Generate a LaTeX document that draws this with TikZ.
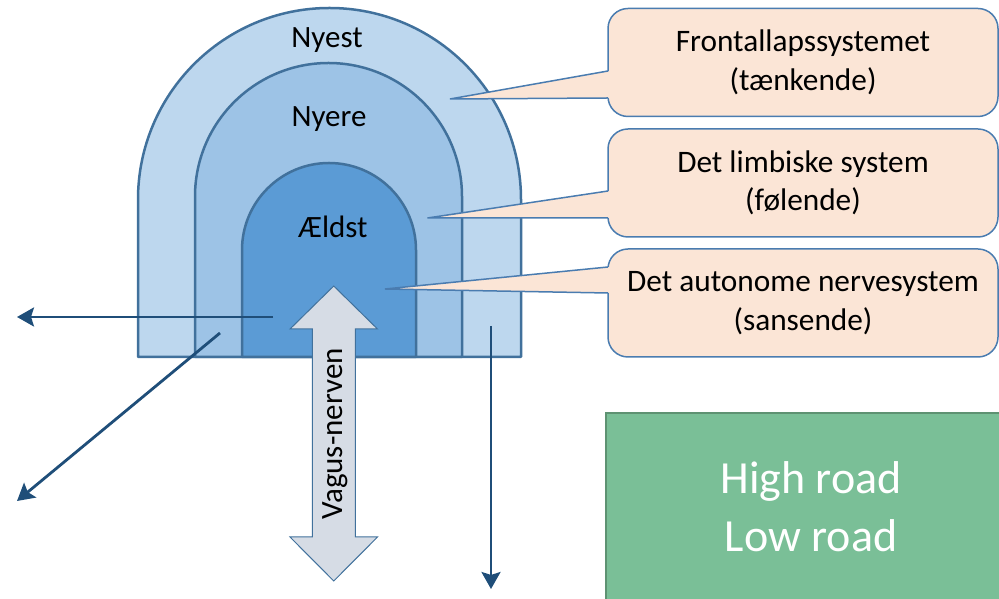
\documentclass[tikz,border=0pt]{standalone}
\usepackage{fontspec}
\setmainfont{Carlito}
\usetikzlibrary{arrows.meta}
\definecolor{archline}{HTML}{41719C}
\definecolor{outerfill}{HTML}{BDD7EE}
\definecolor{midfill}{HTML}{9DC3E6}
\definecolor{innerfill}{HTML}{5B9BD5}
\definecolor{callfill}{HTML}{FBE5D6}
\definecolor{callline}{HTML}{4A7CB0}
\definecolor{vagfill}{HTML}{D6DCE5}
\definecolor{darkarrow}{HTML}{1F4E79}
\definecolor{greenfill}{HTML}{7ABF97}
\definecolor{greenline}{HTML}{5E9272}
\tikzset{
  arch/.style={draw=archline, line width=2.5pt, line join=round},
  callbox/.style={draw=callline, fill=callfill, line width=1.5pt, rounded corners=20pt,
    minimum width=390pt, minimum height=108pt, align=center, inner sep=0pt,
    font=\fontsize{31.3}{38.5}\selectfont},
  layerlabel/.style={anchor=base, font=\fontsize{31}{37}\selectfont},
  darkarr/.style={draw=darkarrow, line width=2.8pt, -{Stealth[length=17pt,width=19pt,inset=3pt]}},
}
\begin{document}
\begin{tikzpicture}[x=1pt,y=1pt]
\useasboundingbox (0,0) rectangle (999,599);
% arches
\draw[arch, fill=outerfill] (138,242) -- (138,399.5) arc[start angle=180,end angle=0,radius=191.5] -- (521,242) -- cycle;
\draw[arch, fill=midfill] (195,242) -- (195,402.5) arc[start angle=180,end angle=0,radius=133.5] -- (462,242) -- cycle;
\draw[arch, fill=innerfill] (242,242) -- (242,349) arc[start angle=180,end angle=0,radius=87] -- (416,242) -- cycle;
\node[layerlabel] (nyest) at (327,551) {Nyest};
\node[layerlabel] (nyere) at (329,472) {Nyere};
\node[layerlabel] (aeldst) at (333,361) {Ældst};
% callouts
\node[callbox] (c1) at (803,536.5) {Frontallapssystemet\\(tænkende)};
\node[callbox] (c2) at (803,416) {Det limbiske system\\(følende)};
\node[callbox] (c3) at (803,296) {Det autonome nervesystem\\(sansende)};
\coordinate (t1) at (450,500);
\coordinate (t2) at (427.5,381);
\coordinate (t3) at (385,310);
\fill[callfill] (t1) -- (610,528) -- (610,501) -- cycle;
\draw[callline, line width=1.5pt] (608,528) -- (t1) -- (608,501);
\fill[callfill] (t2) -- (610,408) -- (610,381) -- cycle;
\draw[callline, line width=1.5pt] (608,408) -- (t2) -- (608,381);
\fill[callfill] (t3) -- (610,332) -- (610,306) -- cycle;
\draw[callline, line width=1.5pt] (608,332) -- (t3) -- (608,306);
% vagus double arrow
\draw[draw=archline, fill=vagfill, line width=1pt, line join=miter]
  (333.75,313) -- (377.5,270) -- (355.25,270) -- (355.25,62) -- (377.5,62)
  -- (333.75,18) -- (290,62) -- (312.25,62) -- (312.25,270) -- (290,270) -- cycle;
\node[rotate=90, font=\fontsize{31}{37}\selectfont, inner sep=0pt] (vagus) at (335,165) {Vagus-nerven};
% dark arrows
\coordinate (a1s) at (273,282);
\coordinate (a1e) at (17,282);
\coordinate (a2s) at (220,266);
\coordinate (a2e) at (17,98);
\coordinate (a3s) at (491,273);
\coordinate (a3e) at (491,10);
\draw[darkarr] (a1s) -- (a1e);
\draw[darkarr] (a2s) -- (a2e);
\draw[darkarr] (a3s) -- (a3e);
% green box
\draw[draw=greenline, fill=greenfill, line width=2pt] (606,-5) rectangle (1010,186);
\node[text=white, align=center, font=\fontsize{46}{58}\selectfont, inner sep=0pt] (roads) at (811,92) {High road\\Low road};
\end{tikzpicture}
\end{document}
